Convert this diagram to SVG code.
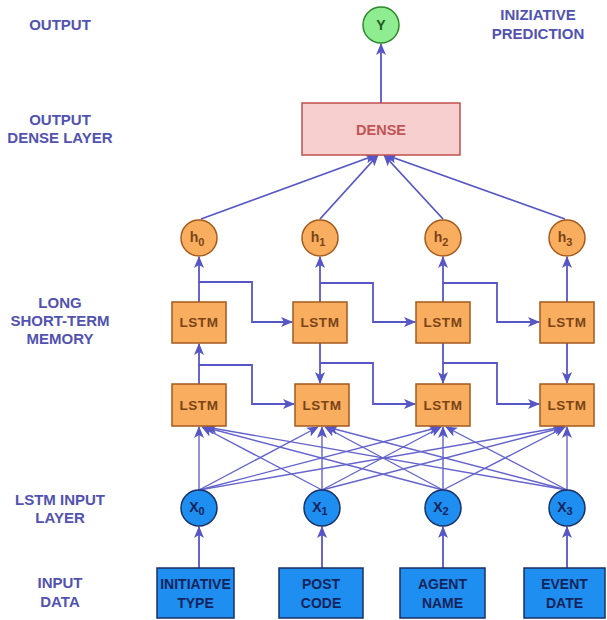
<svg xmlns="http://www.w3.org/2000/svg" width="607" height="620" viewBox="0 0 607 620">
<defs>
<marker id="ah" markerUnits="userSpaceOnUse" markerWidth="12" markerHeight="10" refX="11" refY="5" orient="auto">
<path d="M0,0 L12,5 L0,10 L3,5 z" fill="#5656c6"/>
</marker>
<style>
.lbl{font-family:"Liberation Sans",Arial,sans-serif;font-weight:bold;font-size:15px;fill:#5252b0;text-anchor:middle}
.c{fill:none;stroke:#5656c6;stroke-width:1.8}
.x{fill:none;stroke:#6464cc;stroke-width:1.4}
.lstm rect{fill:#f9ad5f;stroke:#a45a1c;stroke-width:1.5}
.lstm text{font-family:"Liberation Sans",Arial,sans-serif;font-weight:bold;font-size:13.5px;fill:#7a4418;text-anchor:middle;letter-spacing:0.6px}
.h circle{fill:#f9ad5f;stroke:#a45a1c;stroke-width:1.5}
.h text{font-family:"Liberation Sans",Arial,sans-serif;font-weight:bold;font-size:14px;fill:#7a4418;text-anchor:middle}
.xn circle{fill:#1e8ef0;stroke:#1a2f66;stroke-width:1.5}
.xn text{font-family:"Liberation Sans",Arial,sans-serif;font-weight:bold;font-size:14px;fill:#14245a;text-anchor:middle}
.in rect{fill:#1e8ef0;stroke:#1a2f66;stroke-width:1.5}
.in text{font-family:"Liberation Sans",Arial,sans-serif;font-weight:bold;font-size:14px;fill:#14245a;text-anchor:middle}
</style>
</defs>
<rect width="607" height="620" fill="#ffffff"/>
<g id="labels">
<text class="lbl" x="60" y="30">OUTPUT</text>
<text class="lbl" x="60" y="125">OUTPUT</text>
<text class="lbl" x="60" y="143">DENSE LAYER</text>
<text class="lbl" x="60" y="308">LONG</text>
<text class="lbl" x="60" y="326">SHORT-TERM</text>
<text class="lbl" x="60" y="344">MEMORY</text>
<text class="lbl" x="60" y="505">LSTM INPUT</text>
<text class="lbl" x="60" y="523">LAYER</text>
<text class="lbl" x="60" y="588">INPUT</text>
<text class="lbl" x="60" y="607">DATA</text>
<text class="lbl" x="538" y="20">INIZIATIVE</text>
<text class="lbl" x="538" y="39">PREDICTION</text>
</g>
<g id="connectors">
<line class="c" x1="381" y1="103" x2="381" y2="44" marker-end="url(#ah)"/>
<line class="c" x1="201" y1="219" x2="376" y2="155" marker-end="url(#ah)"/>
<line class="c" x1="320" y1="219" x2="378" y2="155" marker-end="url(#ah)"/>
<line class="c" x1="443" y1="219" x2="384" y2="155" marker-end="url(#ah)"/>
<line class="c" x1="565" y1="219" x2="386" y2="155" marker-end="url(#ah)"/>
<line class="c" x1="199" y1="302" x2="199" y2="257" marker-end="url(#ah)"/>
<line class="c" x1="320" y1="302" x2="320" y2="257" marker-end="url(#ah)"/>
<line class="c" x1="443" y1="302" x2="443" y2="257" marker-end="url(#ah)"/>
<line class="c" x1="567" y1="302" x2="567" y2="257" marker-end="url(#ah)"/>
<line class="c" x1="199" y1="384" x2="199" y2="344" marker-end="url(#ah)"/>
<line class="c" x1="320" y1="343" x2="320" y2="383" marker-end="url(#ah)"/>
<line class="c" x1="443" y1="343" x2="443" y2="383" marker-end="url(#ah)"/>
<line class="c" x1="567" y1="343" x2="567" y2="383" marker-end="url(#ah)"/>
<path class="c" d="M199,282 H252 V322 H292" marker-end="url(#ah)"/>
<path class="c" d="M320,283 H373 V322 H415" marker-end="url(#ah)"/>
<path class="c" d="M443,283 H497 V322 H539" marker-end="url(#ah)"/>
<path class="c" d="M199,365 H252 V404 H294" marker-end="url(#ah)"/>
<path class="c" d="M320,363 H373 V404 H415" marker-end="url(#ah)"/>
<path class="c" d="M443,363 H497 V404 H539" marker-end="url(#ah)"/>
<line class="c" x1="199" y1="568" x2="199" y2="527" marker-end="url(#ah)"/>
<line class="c" x1="322" y1="568" x2="322" y2="527" marker-end="url(#ah)"/>
<line class="c" x1="443" y1="568" x2="443" y2="527" marker-end="url(#ah)"/>
<line class="c" x1="567" y1="568" x2="567" y2="527" marker-end="url(#ah)"/>
<line class="x" x1="199" y1="490" x2="199" y2="427" marker-end="url(#ah)"/>
<line class="x" x1="199" y1="490" x2="318" y2="427" marker-end="url(#ah)"/>
<line class="x" x1="199" y1="490" x2="440" y2="427" marker-end="url(#ah)"/>
<line class="x" x1="199" y1="490" x2="563" y2="427" marker-end="url(#ah)"/>
<line class="x" x1="322" y1="490" x2="202" y2="427" marker-end="url(#ah)"/>
<line class="x" x1="322" y1="490" x2="322" y2="427" marker-end="url(#ah)"/>
<line class="x" x1="322" y1="490" x2="441" y2="427" marker-end="url(#ah)"/>
<line class="x" x1="322" y1="490" x2="565" y2="427" marker-end="url(#ah)"/>
<line class="x" x1="443" y1="490" x2="204" y2="427" marker-end="url(#ah)"/>
<line class="x" x1="443" y1="490" x2="325" y2="427" marker-end="url(#ah)"/>
<line class="x" x1="443" y1="490" x2="443" y2="427" marker-end="url(#ah)"/>
<line class="x" x1="443" y1="490" x2="565" y2="427" marker-end="url(#ah)"/>
<line class="x" x1="567" y1="490" x2="206" y2="427" marker-end="url(#ah)"/>
<line class="x" x1="567" y1="490" x2="327" y2="427" marker-end="url(#ah)"/>
<line class="x" x1="567" y1="490" x2="446" y2="427" marker-end="url(#ah)"/>
<line class="x" x1="567" y1="490" x2="567" y2="427" marker-end="url(#ah)"/>
</g>
<g id="y">
<circle cx="381" cy="25" r="18" fill="#90ec90" stroke="#2b8a2b" stroke-width="1.5"/>
<text x="381" y="30" font-family="Liberation Sans, Arial, sans-serif" font-weight="bold" font-size="14" fill="#1e5a1e" text-anchor="middle">Y</text>
</g>
<g id="dense">
<rect x="302" y="103" width="158" height="52" fill="#f8cfcf" stroke="#c0504d" stroke-width="1.5"/>
<text x="381" y="135" font-family="Liberation Sans, Arial, sans-serif" font-weight="bold" font-size="14.5" fill="#c05555" text-anchor="middle">DENSE</text>
</g>
<g id="h0" class="h"><circle cx="199" cy="238" r="18"/><text x="197" y="242">h<tspan font-size="11" dy="4">0</tspan></text></g>
<g id="h1" class="h"><circle cx="320" cy="238" r="18"/><text x="318" y="242">h<tspan font-size="11" dy="4">1</tspan></text></g>
<g id="h2" class="h"><circle cx="443" cy="238" r="18"/><text x="441" y="242">h<tspan font-size="11" dy="4">2</tspan></text></g>
<g id="h3" class="h"><circle cx="567" cy="238" r="18"/><text x="565" y="242">h<tspan font-size="11" dy="4">3</tspan></text></g>
<g id="lstm-u0" class="lstm"><rect x="172" y="302" width="54" height="41"/><text x="199" y="327">LSTM</text></g>
<g id="lstm-u1" class="lstm"><rect x="293" y="302" width="54" height="41"/><text x="320" y="327">LSTM</text></g>
<g id="lstm-u2" class="lstm"><rect x="416" y="302" width="54" height="41"/><text x="443" y="327">LSTM</text></g>
<g id="lstm-u3" class="lstm"><rect x="540" y="302" width="54" height="41"/><text x="567" y="327">LSTM</text></g>
<g id="lstm-l0" class="lstm"><rect x="172" y="384" width="54" height="42"/><text x="199" y="410">LSTM</text></g>
<g id="lstm-l1" class="lstm"><rect x="295" y="384" width="54" height="42"/><text x="322" y="410">LSTM</text></g>
<g id="lstm-l2" class="lstm"><rect x="416" y="384" width="54" height="42"/><text x="443" y="410">LSTM</text></g>
<g id="lstm-l3" class="lstm"><rect x="540" y="384" width="54" height="42"/><text x="567" y="410">LSTM</text></g>
<g id="x0" class="xn"><circle cx="199" cy="508" r="18"/><text x="197" y="512">X<tspan font-size="11" dy="3">0</tspan></text></g>
<g id="x1" class="xn"><circle cx="322" cy="508" r="18"/><text x="320" y="512">X<tspan font-size="11" dy="3">1</tspan></text></g>
<g id="x2" class="xn"><circle cx="443" cy="508" r="18"/><text x="441" y="512">X<tspan font-size="11" dy="3">2</tspan></text></g>
<g id="x3" class="xn"><circle cx="567" cy="508" r="18"/><text x="565" y="512">X<tspan font-size="11" dy="3">3</tspan></text></g>
<g id="in0" class="in"><rect x="157" y="568" width="77" height="50"/><text x="195.5" y="589">INITIATIVE</text><text x="195.5" y="608">TYPE</text></g>
<g id="in1" class="in"><rect x="279" y="568" width="84" height="50"/><text x="321" y="589">POST</text><text x="321" y="608">CODE</text></g>
<g id="in2" class="in"><rect x="400" y="568" width="85" height="50"/><text x="442.5" y="589">AGENT</text><text x="442.5" y="608">NAME</text></g>
<g id="in3" class="in"><rect x="524" y="568" width="81" height="50"/><text x="564.5" y="589">EVENT</text><text x="564.5" y="608">DATE</text></g>
</svg>
